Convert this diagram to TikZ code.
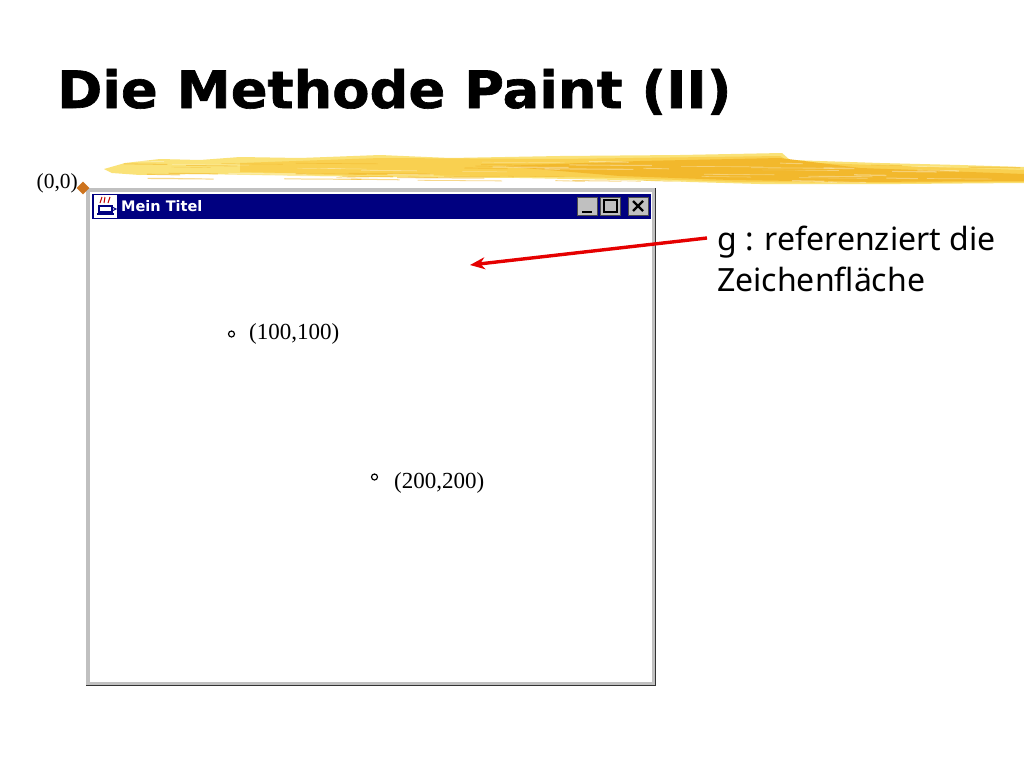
\documentclass[tikz,border=0pt]{standalone}
\usepackage{fontspec}
\usetikzlibrary{shapes.geometric,arrows.meta}
\setmainfont{Liberation Serif}
\newfontfamily\titlefont[BoldFeatures={FakeBold=1.2}]{DejaVu Sans}
\newfontfamily\wintitlefont{DejaVu Sans}
\newfontfamily\labelfont{Noto Sans}
\definecolor{navybar}{RGB}{0,0,128}
\definecolor{framegray}{RGB}{192,192,192}
\definecolor{darkedge}{RGB}{50,50,50}
\definecolor{brushA}{RGB}{250,226,120}
\definecolor{brushB}{RGB}{249,208,80}
\definecolor{brushC}{RGB}{242,184,44}
\definecolor{markbrown}{RGB}{205,115,30}
\tikzset{
	coordtext/.style={inner sep=0pt,font=\fontsize{23}{23}\selectfont},
	winbutton/.style={fill=framegray,draw=black!70,line width=0.6pt,minimum width=20pt,minimum height=18pt,inner sep=0pt},
	pointmark/.style={circle,draw=black,line width=1.2pt,fill=white,minimum size=6pt,inner sep=0pt},
	brushstroke/.style={draw=none,line join=round}
}
\begin{document}
\begin{tikzpicture}[>={Stealth[length=15pt,width=12pt]},x=1pt,y=-1pt]
	\useasboundingbox (0,0) rectangle (1024,768);
	\fill[white] (0,0) rectangle (1024,768);
	% title
	\node[anchor=base west,inner sep=0pt,xscale=1.055,font=\titlefont\bfseries\fontsize{51.5}{52}\selectfont] (title) at (57,108) {Die Methode Paint (II)};
	% brush stroke
	\fill[brushstroke,brushA] (104,169) -- (125,163) -- (160,159) -- (200,160) -- (240,157) -- (300,158) -- (380,155) -- (450,158) -- (560,156) -- (680,155) -- (782,153) -- (790,160) -- (880,163) -- (960,165) -- (1024,167) -- (1024,183) -- (900,184) -- (760,184) -- (620,180) -- (520,178) -- (380,177) -- (300,176) -- (200,174) -- (140,175) -- (112,173) -- cycle;
	\fill[brushstroke,brushB] (240,163) -- (380,158) -- (560,159) -- (780,156) -- (790,162) -- (900,166) -- (1024,170) -- (1024,182) -- (880,183) -- (740,182) -- (620,178) -- (500,176) -- (380,175) -- (240,172) -- cycle;
	\fill[brushstroke,brushC] (500,166) -- (640,161) -- (780,158) -- (860,168) -- (1024,174) -- (1024,181) -- (860,182) -- (730,180) -- (620,176) -- cycle;
	% streaks on the stroke
	\pgfmathsetseed{7}
	\foreach \i in {1,...,90} {
		\pgfmathsetmacro{\sx}{120+rnd*860}
		\pgfmathsetmacro{\sy}{160+rnd*20+(\sx-120)*0.003}
		\pgfmathsetmacro{\sl}{20+rnd*70}
		\pgfmathsetmacro{\sw}{0.4+rnd*0.9}
		\ifodd\i
			\draw[brushC,opacity=0.55,line width=\sw pt] (\sx,\sy) -- ++(\sl,0.6);
		\else
			\draw[white,opacity=0.35,line width=\sw pt] (\sx,\sy) -- ++(\sl,0.6);
		\fi
	}
	% window
	\fill[framegray] (86,188) rectangle (656,686);
	\draw[darkedge,line width=1.6pt] (86,685.5) -- (655.5,685.5) -- (655.5,188);
	\fill[white] (90,192) rectangle (652,682);
	\fill[navybar] (92,194) rectangle (651,219);
	% icon and window title
	\fill[white] (94,195) rectangle (117,218);
	\draw[navybar,line width=1.2pt] (99,206) rectangle (112,212);
	\draw[navybar,line width=1.2pt] (97,214) -- (114,214);
	\draw[navybar,line width=1pt] (112,207) -- (116,209) -- (112,211);
	\draw[red!75!black,line width=1pt] (100,203) -- (102,197) (104,203) -- (105,197) (108,203) -- (110,197);
	\node[anchor=base west,inner sep=0pt,text=white,font=\wintitlefont\bfseries\fontsize{14.5}{15}\selectfont] (wintitle) at (121,211) {Mein Titel};
	\node[winbutton] (minbtn) at (587.5,206) {};
	\node[winbutton] (maxbtn) at (610.5,206) {};
	\node[winbutton] (closebtn) at (638,206) {};
	\draw[black,line width=2.4pt] (582,212) -- (592,212);
	\draw[black,line width=1.4pt] (604,200) rectangle (617,212);
	\draw[black,line width=1.2pt] (604,199.5) -- (617,199.5);
	\draw[black,line width=2.2pt] (633,201) -- (643,211) (643,201) -- (633,211);
	% origin
	\node[diamond,aspect=1,fill=markbrown,minimum size=13pt,inner sep=0pt] (origin) at (83,188) {};
	\node[coordtext,anchor=east,font=\fontsize{21.5}{22}\selectfont] (origintext) at (78,183) {(0,0)};
	% points
	\node[pointmark] (ptA) at (231.5,334) {};
	\node[coordtext,anchor=west] (ptAtext) at (249,334) {(100,100)};
	\node[pointmark] (ptB) at (374.5,477) {};
	\node[coordtext,anchor=west] (ptBtext) at (394,483) {(200,200)};
	% label and arrow
	\node[anchor=north west,inner sep=0pt,align=left,font=\labelfont\fontsize{32}{41}\selectfont] (glabel) at (717,226) {g : referenziert die\\Zeichenfl\"ache};
	\coordinate (gstart) at (707,238);
	\coordinate (gtarget) at (470,265);
	\draw[->,red!90!black,line width=3.4pt] (gstart) -- (gtarget);
\end{tikzpicture}
\end{document}
